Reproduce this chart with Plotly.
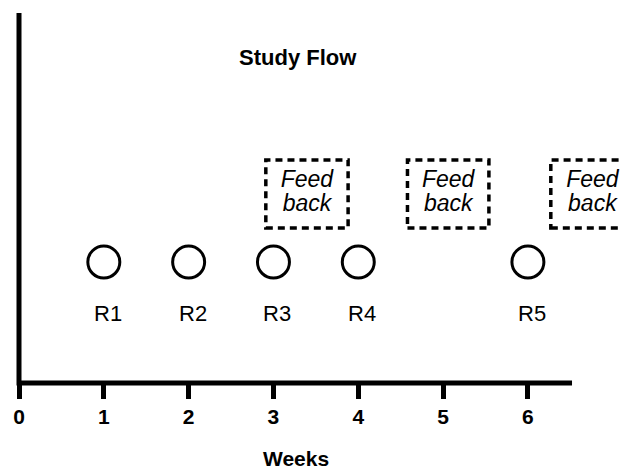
import plotly.graph_objects as go

# ---- data ----
visit_weeks = [1, 2, 3, 4, 6]
visit_labels = ["R1", "R2", "R3", "R4", "R5"]
visit_level = 3.27
label_level = 1.89

feedback_start = [2.91, 4.58, 6.27]
feedback_end = [3.88, 5.54, 7.40]
feedback_text_x = [3.395, 5.06, 6.76]
feedback_bottom = 4.19
feedback_top = 6.03
feedback_lines = ["Feed", "back"]
feedback_line_levels = [5.46, 4.81]

tick_vals = [0, 1, 2, 3, 4, 5, 6]
tick_text = ["0", "1", "2", "3", "4", "5", "6"]
x_axis_end = 6.52
x_range = [0, 7.18]
y_range = [0, 10]

title_text = "<b>Study Flow</b>"
title_x = 3.29
title_y = 8.80
x_title = "<b>Weeks</b>"
x_title_x = 3.26

FONT = "Liberation Sans, Arial, sans-serif"

fig = go.Figure()

# visit circles
fig.add_trace(go.Scatter(
    x=visit_weeks, y=[visit_level] * len(visit_weeks), mode="markers",
    marker=dict(symbol="circle-open", size=32, color="black", line=dict(width=3, color="black")),
    hoverinfo="skip", showlegend=False, cliponaxis=False))

# visit labels
for wk, lab in zip(visit_weeks, visit_labels):
    fig.add_annotation(x=wk, y=label_level, xref="x", yref="y", text=lab,
                       showarrow=False, xshift=4,
                       font=dict(family=FONT, size=22, color="black"))

# feedback boxes
for x0, x1 in zip(feedback_start, feedback_end):
    fig.add_shape(type="rect", xref="x", yref="y", x0=x0, x1=x1,
                  y0=feedback_bottom, y1=feedback_top,
                  line=dict(color="black", width=3.5, dash="7px,5px"),
                  fillcolor="rgba(0,0,0,0)")

for line_text, level in zip(feedback_lines, feedback_line_levels):
    fig.add_trace(go.Scatter(
        x=feedback_text_x, y=[level] * len(feedback_text_x),
        mode="text", text=[line_text] * len(feedback_text_x),
        textfont=dict(family=FONT, size=23, color="black", style="italic"),
        hoverinfo="skip", showlegend=False, cliponaxis=False))

# axis lines
fig.add_shape(type="line", xref="x", yref="y domain", x0=0, x1=x_axis_end, y0=0, y1=0,
              line=dict(color="black", width=5))
fig.add_shape(type="line", xref="x domain", yref="y domain", x0=0, x1=0, y0=-0.007, y1=1,
              line=dict(color="black", width=5))

fig.add_annotation(x=title_x, y=title_y, xref="x", yref="y", text=title_text,
                   showarrow=False, font=dict(family=FONT, size=22, color="black"))
fig.add_annotation(x=x_title_x, y=-0.203, xref="x", yref="paper", text=x_title,
                   showarrow=False, yanchor="middle",
                   font=dict(family=FONT, size=21, color="black"))

fig.update_layout(
    width=620, height=461,
    margin=dict(l=11, r=0, t=5, b=86, pad=0),
    paper_bgcolor="white", plot_bgcolor="white",
    font=dict(family=FONT, color="black"),
    showlegend=False,
    xaxis=dict(range=x_range, tickvals=tick_vals, ticktext=tick_text,
               showline=False, showgrid=False, zeroline=False, automargin=False,
               ticks="outside", ticklen=15, tickwidth=5, tickcolor="black",
               tickfont=dict(family=FONT, size=21, color="black", weight="bold"),
               fixedrange=True),
    yaxis=dict(range=y_range, showticklabels=False, ticks="", showgrid=False, zeroline=False,
               showline=False, automargin=False, fixedrange=True),
)

fig.write_html("out.html")
